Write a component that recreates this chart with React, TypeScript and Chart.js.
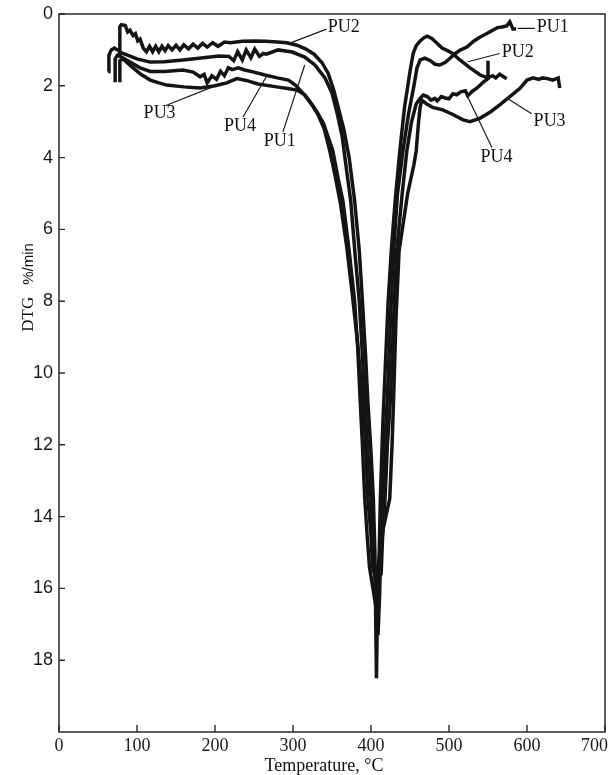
import React, { useEffect, useRef } from 'react';
import { Chart, registerables } from 'chart.js';

Chart.register(...registerables);

// ---- axis ticks ----
const xTicks = [0, 100, 200, 300, 400, 500, 600, 700];
const yTicks = [0, 2, 4, 6, 8, 10, 12, 14, 16, 18];

// ---- series (temperature °C, DTG %/min) ----
const pu1T = [63, 64, 67, 71, 75, 80, 87, 100, 117, 135, 159, 185, 205, 218, 224, 229, 235, 240, 246, 251, 257, 262, 266, 281, 299, 315, 328, 341, 350, 357, 363, 369, 374, 380, 385, 389, 392, 396, 400, 404, 407, 409, 411, 413, 415, 418, 421, 425, 429, 434, 441, 448, 455, 459, 463, 469, 476, 482, 488, 495, 502, 508, 515, 523, 532, 540, 548, 556, 562, 568, 574, 578, 582, 586];
const pu1D = [1.6, 1.15, 1.0, 0.95, 1.0, 1.08, 1.14, 1.25, 1.34, 1.33, 1.28, 1.22, 1.17, 1.18, 1.3, 1.05, 1.28, 1.0, 1.22, 0.98, 1.18, 1.1, 1.12, 1.0, 1.06, 1.2, 1.42, 1.78, 2.2, 2.8, 3.4, 4.4, 5.2, 6.8, 8.0, 9.5, 10.7, 12.2, 13.5, 15.2, 16.5, 17.3, 16.2, 14.5, 13.5, 11.8, 10.7, 8.5, 6.6, 5.0, 3.8, 2.8, 2.0, 1.5, 1.28, 1.23, 1.3, 1.4, 1.42, 1.35, 1.22, 1.1, 1.0, 0.92, 0.75, 0.64, 0.55, 0.45, 0.38, 0.36, 0.33, 0.22, 0.42, 0.42];

const pu2T = [78, 78, 80, 85, 88, 91, 95, 98, 101, 104, 108, 112, 116, 120, 124, 128, 132, 136, 140, 145, 150, 155, 160, 166, 172, 178, 184, 190, 197, 204, 212, 220, 235, 250, 265, 280, 292, 305, 316, 327, 337, 345, 352, 358, 365, 372, 379, 385, 389, 393, 396, 400, 403, 405, 406, 407, 408, 410, 412, 415, 418, 422, 426, 431, 437, 443, 450, 454, 458, 463, 468, 472, 478, 484, 491, 498, 504, 514, 527, 540, 550, 556, 560, 565, 570, 574];
const pu2D = [1.2, 0.35, 0.3, 0.32, 0.5, 0.45, 0.6, 0.55, 0.75, 0.7, 0.95, 1.05, 0.9, 1.05, 0.9, 1.05, 0.9, 1.02, 0.88, 1.0, 0.87, 1.0, 0.86, 0.97, 0.84, 0.95, 0.82, 0.92, 0.8, 0.9, 0.78, 0.8, 0.76, 0.75, 0.76, 0.78, 0.8, 0.87, 0.97, 1.12, 1.35, 1.65, 2.1, 2.6, 3.2, 4.0, 5.2, 6.6, 8.0, 9.5, 10.8, 12.2, 13.5, 15.0, 16.8, 18.5, 17.0, 15.5, 13.5, 11.5, 10.0, 8.0, 6.6, 5.2, 3.8, 2.6, 1.6, 1.1, 0.88, 0.75, 0.66, 0.62, 0.68, 0.8, 0.95, 1.02, 1.09, 1.28, 1.5, 1.7, 1.78, 1.72, 1.78, 1.68, 1.75, 1.8];

const pu3T = [78, 78, 82, 87, 95, 105, 117, 128, 138, 160, 181, 200, 215, 228, 240, 255, 279, 295, 305, 315, 322, 330, 339, 351, 358, 364, 372, 379, 383, 386, 389, 392, 395, 398, 404, 410, 416, 424, 427, 429, 432, 436, 447, 455, 458, 461, 463, 465, 471, 479, 492, 505, 518, 527, 540, 553, 565, 578, 591, 600, 608, 615, 620, 626, 633, 640, 642];
const pu3D = [1.9, 1.3, 1.25, 1.35, 1.5, 1.68, 1.84, 1.92, 1.98, 2.03, 2.06, 2.0, 1.92, 1.8, 1.85, 1.95, 2.03, 2.08, 2.12, 2.25, 2.45, 2.7, 3.04, 3.8, 4.6, 5.2, 6.6, 8.0, 9.3, 10.7, 12.0, 13.5, 14.5, 15.4, 16.2, 15.2, 14.3, 13.5, 12.0, 10.7, 8.5, 6.6, 5.0, 4.2, 3.8, 3.0, 2.6, 2.4, 2.5, 2.6, 2.67, 2.8, 2.95, 3.0, 2.9, 2.73, 2.53, 2.3, 2.07, 1.84, 1.78, 1.82, 1.78, 1.8, 1.84, 1.78, 2.06];

const pu4T = [72, 72, 75, 80, 91, 104, 117, 135, 159, 172, 181, 186, 190, 196, 202, 207, 212, 217, 222, 230, 238, 250, 264, 280, 294, 303, 315, 325, 332, 340, 347, 354, 361, 369, 376, 383, 389, 393, 396, 400, 402, 407, 413, 415, 418, 421, 425, 429, 433, 440, 446, 452, 458, 463, 467, 472, 477, 482, 485, 490, 495, 500, 505, 510, 515, 521, 524, 530, 536, 544, 550, 550];
const pu4D = [1.9, 1.25, 1.15, 1.2, 1.34, 1.5, 1.6, 1.6, 1.56, 1.62, 1.75, 1.68, 1.92, 1.72, 1.82, 1.6, 1.72, 1.5, 1.55, 1.5, 1.56, 1.62, 1.7, 1.78, 1.84, 1.98, 2.26, 2.55, 2.8, 3.2, 3.8, 4.5, 5.3, 6.5, 7.8, 9.2, 10.7, 12.0, 13.5, 14.5, 15.4, 15.8, 15.6, 14.5, 13.5, 12.0, 10.7, 8.5, 6.6, 5.0, 3.8, 3.0, 2.5, 2.35, 2.26, 2.3, 2.4, 2.35, 2.42, 2.3, 2.34, 2.36, 2.22, 2.25, 2.17, 2.14, 2.28, 2.15, 2.06, 1.9, 1.8, 1.3];

// ---- curve labels: text, label centre, leader line (data units) ----
const labelText = ['PU2', 'PU3', 'PU4', 'PU1', 'PU1', 'PU2', 'PU3', 'PU4'];
const labelT = [365, 129, 232, 283, 633, 588, 629, 561];
const labelD = [0.36, 2.76, 3.12, 3.54, 0.36, 1.06, 2.98, 3.98];
const leadT1 = [343, 137, 236, 287, 588, 565, 606, 555];
const leadD1 = [0.42, 2.55, 2.87, 3.29, 0.4, 1.1, 2.78, 3.72];
const leadT2 = [296, 210, 267, 315, 610, 524, 576, 521];
const leadD2 = [0.81, 1.92, 1.7, 1.42, 0.4, 1.33, 2.37, 2.17];

const toPts = (t: number[], d: number[]) => t.map((v, i) => ({ x: v, y: d[i] }));

const SERIF = '"Liberation Serif", "Times New Roman", serif';
const SANS = '"Liberation Sans", Arial, sans-serif';

const decorPlugin = {
  id: 'decor',
  afterDraw(chart: any) {
    const { ctx, chartArea: a, scales, width } = chart;
    const xs = scales.x;
    const ys = scales.y;
    ctx.save();
    // frame
    ctx.strokeStyle = '#2a2a2a';
    ctx.lineWidth = 1.5;
    ctx.strokeRect(a.left, a.top, a.right - a.left, a.bottom - a.top);
    // inward ticks
    ctx.lineWidth = 1.4;
    ctx.beginPath();
    xTicks.forEach((v) => {
      const px = xs.getPixelForValue(v);
      ctx.moveTo(px, a.bottom);
      ctx.lineTo(px, a.bottom - 7);
    });
    yTicks.forEach((v) => {
      const py = ys.getPixelForValue(v);
      ctx.moveTo(a.left, py);
      ctx.lineTo(a.left + 6, py);
    });
    ctx.stroke();
    // x tick labels (kept inside the canvas at the right edge)
    ctx.fillStyle = '#1a1a1a';
    ctx.font = '18px ' + SERIF;
    ctx.textAlign = 'left';
    ctx.textBaseline = 'top';
    xTicks.forEach((v) => {
      const txt = String(v);
      const tw = ctx.measureText(txt).width;
      let left = xs.getPixelForValue(v) - tw / 2;
      if (left + tw > width - 2) left = width - 2 - tw;
      ctx.fillText(txt, left, a.bottom + 5);
    });
    // leader lines
    ctx.strokeStyle = '#1a1a1a';
    ctx.lineWidth = 1.2;
    ctx.beginPath();
    labelText.forEach((_, i) => {
      ctx.moveTo(xs.getPixelForValue(leadT1[i]), ys.getPixelForValue(leadD1[i]));
      ctx.lineTo(xs.getPixelForValue(leadT2[i]), ys.getPixelForValue(leadD2[i]));
    });
    ctx.stroke();
    // label texts
    ctx.fillStyle = '#111';
    ctx.font = '18px ' + SERIF;
    ctx.textAlign = 'center';
    ctx.textBaseline = 'middle';
    labelText.forEach((txt, i) => {
      ctx.fillText(txt, xs.getPixelForValue(labelT[i]), ys.getPixelForValue(labelD[i]));
    });
    // x title
    ctx.fillText('Temperature, \u00B0C', (a.left + a.right) / 2 - 8, a.bottom + 34);
    // y title (rotated)
    ctx.translate(a.left - 30, ys.getPixelForValue(8.85));
    ctx.rotate(-Math.PI / 2);
    ctx.textAlign = 'left';
    ctx.font = '17px ' + SERIF;
    ctx.fillText('DTG', 0, 0);
    const w = ctx.measureText('DTG').width;
    ctx.font = '15px ' + SANS;
    ctx.fillText('%/min', w + 12, 0);
    ctx.restore();
  },
};

export default function App() {
  const ref = useRef<HTMLCanvasElement | null>(null);
  useEffect(() => {
    if (!ref.current) return;
    const lineStyle = {
      borderColor: '#141414',
      backgroundColor: '#141414',
      borderWidth: 3.5,
      pointRadius: 0,
      showLine: true,
      tension: 0,
      fill: false,
    };
    const chart = new Chart(ref.current, {
      type: 'scatter',
      data: {
        datasets: [
          { label: 'PU1', data: toPts(pu1T, pu1D), ...lineStyle },
          { label: 'PU2', data: toPts(pu2T, pu2D), ...lineStyle },
          { label: 'PU3', data: toPts(pu3T, pu3D), ...lineStyle },
          { label: 'PU4', data: toPts(pu4T, pu4D), ...lineStyle },
        ],
      },
      options: {
        animation: false,
        responsive: false,
        maintainAspectRatio: false,
        layout: { padding: { top: 14, right: 5, left: 0, bottom: 0 } },
        plugins: { legend: { display: false }, tooltip: { enabled: false } },
        scales: {
          x: {
            type: 'linear',
            min: 0,
            max: 700,
            afterBuildTicks: (s: any) => {
              s.ticks = xTicks.map((v) => ({ value: v }));
            },
            ticks: { display: false },
            grid: { display: false, drawTicks: false },
            border: { display: false },
            afterFit: (s: any) => {
              s.height = 43;
              s.paddingLeft = 0;
              s.paddingRight = 0;
            },
          },
          y: {
            type: 'linear',
            reverse: true,
            min: 0,
            max: 20,
            afterBuildTicks: (s: any) => {
              s.ticks = yTicks.map((v) => ({ value: v }));
            },
            ticks: {
              autoSkip: false,
              padding: 6,
              color: '#1a1a1a',
              font: { family: SANS, size: 18 },
            },
            grid: { display: false, drawTicks: false },
            border: { display: false },
            afterFit: (s: any) => {
              s.width = 59;
              s.paddingTop = 0;
              s.paddingBottom = 0;
            },
          },
        },
      },
      plugins: [decorPlugin],
    });
    return () => chart.destroy();
  }, []);
  return (
    <div style={{ position: 'fixed', left: 0, top: 0, width: 610, height: 775, background: '#fff' }}>
      <canvas ref={ref} width={610} height={775} style={{ width: 610, height: 775, display: 'block' }} />
    </div>
  );
}
